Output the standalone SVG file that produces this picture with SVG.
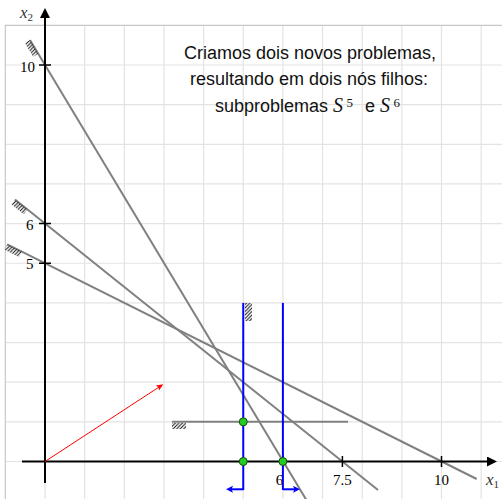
<svg xmlns="http://www.w3.org/2000/svg" width="502" height="499" viewBox="0 0 502 499">
<style>
.grid{stroke:#e3e3e3;stroke-width:1.2;fill:none}
.border{stroke:#c8c8c8;stroke-width:1.2;fill:none}
.con{stroke:#808080;stroke-width:2;fill:none}
.blue{stroke:#0000ff;stroke-width:2;fill:none}
.axis{stroke:#000;stroke-width:2;fill:none}
.tick{stroke:#000;stroke-width:1.5}
.hatch{fill:url(#hp);stroke:none}
.num{font-family:"Liberation Serif",serif;font-size:15px;fill:#000}
.lab{font-family:"Liberation Serif",serif;font-style:italic;font-size:17px;fill:#333}
.sub{font-family:"Liberation Serif",serif;font-size:11px;fill:#333}
.txt{font-family:"Liberation Sans",sans-serif;font-size:18px;fill:#111}
.mi{font-family:"Liberation Serif",serif;font-style:italic;font-size:20px}
.sup{font-family:"Liberation Serif",serif;font-size:13px}
.pt{fill:#22cc22;stroke:#105010;stroke-width:1}
</style>
<defs>
<pattern id="hp" patternUnits="userSpaceOnUse" width="3.5" height="3.5">
<path d="M-1,1 L1,-1 M0,3.5 L3.5,0 M2.5,4.5 L4.5,2.5" stroke="#000" stroke-width="0.9"/>
</pattern>
<marker id="ah" markerUnits="userSpaceOnUse" markerWidth="12" markerHeight="12" refX="3" refY="5" orient="auto"><path d="M0,0 L10,5 L0,10 z" fill="#000"/></marker>
<marker id="bh" markerUnits="userSpaceOnUse" markerWidth="10" markerHeight="10" refX="2" refY="3.5" orient="auto"><path d="M0,0 L7,3.5 L0,7 L1.5,3.5 z" fill="#0000ff"/></marker>
<marker id="rh" markerUnits="userSpaceOnUse" markerWidth="10" markerHeight="10" refX="2" refY="3" orient="auto"><path d="M0,0 L7,3 L0,6 L1.5,3 z" fill="#ff0000"/></marker>
</defs>

<g id="grid">
<path class="grid" d="M45,25.35V499 M84.65,25.35V499 M124.3,25.35V499 M163.95,25.35V499 M203.6,25.35V499 M243.25,25.35V499 M282.9,25.35V499 M322.55,25.35V499 M362.2,25.35V499 M401.85,25.35V499 M441.5,25.35V499 M481.15,25.35V499"/>
<path class="grid" d="M5.35,65H502 M5.35,104.65H502 M5.35,144.3H502 M5.35,183.95H502 M5.35,223.6H502 M5.35,263.25H502 M5.35,302.9H502 M5.35,342.55H502 M5.35,382.2H502 M5.35,421.85H502 M5.35,461.5H502"/>
<path class="border" d="M5.35,499V25.35H502"/>
</g>

<g id="constraints">
<line class="con" x1="30" y1="40" x2="307" y2="501"/>
<line class="con" x1="15" y1="199.5" x2="378" y2="490"/>
<line class="con" x1="7.3" y1="244.4" x2="476.7" y2="479"/>
<line class="con" x1="172" y1="421.85" x2="348" y2="421.85"/>
<polygon class="hatch" points="30,40 38.2,53.7 33.1,56.8 24.9,43.1"/>
<polygon class="hatch" points="15,199.5 27.5,209.5 23.75,214.2 11.25,204.2"/>
<polygon class="hatch" points="7.3,244.4 21.6,251.6 18.9,257 4.6,249.8"/>
<rect class="hatch" x="172" y="423" width="14" height="6"/>
</g>

<g id="axes">
<line class="axis" x1="22" y1="461.5" x2="490" y2="461.5" marker-end="url(#ah)"/>
<line class="axis" x1="45" y1="483" x2="45" y2="15" marker-end="url(#ah)"/>
<path class="tick" d="M282.9,456V467 M342.4,456V467 M441.5,456V467 M39,65H51 M39,223.6H51 M39,263.25H51"/>
<text class="num" x="279.5" y="485" text-anchor="middle">6</text>
<text class="num" x="342.4" y="485" text-anchor="middle">7.5</text>
<text class="num" x="441.5" y="485" text-anchor="middle">10</text>
<text class="num" x="35" y="71.5" text-anchor="end">10</text>
<text class="num" x="33.5" y="229.5" text-anchor="end">6</text>
<text class="num" x="33.5" y="269" text-anchor="end">5</text>
<text x="20" y="18"><tspan class="lab">x</tspan><tspan class="sub" dy="3">2</tspan></text>
<text x="486" y="485"><tspan class="lab">x</tspan><tspan class="sub" dy="3">1</tspan></text>
</g>

<g id="gradient">
<line x1="45" y1="461.5" x2="159.1" y2="387" stroke="#ff0000" stroke-width="1" marker-end="url(#rh)"/>
</g>

<g id="branching">
<line class="blue" x1="243.25" y1="302.9" x2="243.25" y2="490"/>
<line class="blue" x1="282.9" y1="302.9" x2="282.9" y2="490"/>
<rect class="hatch" x="245" y="303" width="7" height="18"/>
<line class="blue" x1="243.25" y1="489.3" x2="231" y2="489.3" marker-end="url(#bh)"/>
<line class="blue" x1="282.9" y1="489.3" x2="295" y2="489.3" marker-end="url(#bh)"/>
</g>

<g id="points">
<circle class="pt" cx="243.25" cy="421.85" r="4"/>
<circle class="pt" cx="243.25" cy="461.5" r="4"/>
<circle class="pt" cx="282.9" cy="461.5" r="4"/>
</g>

<g id="note">
<text class="txt" x="310" y="58.5" text-anchor="middle">Criamos dois novos problemas,</text>
<text class="txt" x="309" y="85" text-anchor="middle">resultando em dois nós filhos:</text>
<text class="txt" y="111.5"><tspan x="215">subproblemas</tspan><tspan class="mi" x="333">S</tspan><tspan class="sup" x="346.5" y="106.5">5</tspan><tspan x="365" y="111.5">e</tspan><tspan class="mi" x="380">S</tspan><tspan class="sup" x="393.5" y="106.5">6</tspan></text>
</g>
</svg>
